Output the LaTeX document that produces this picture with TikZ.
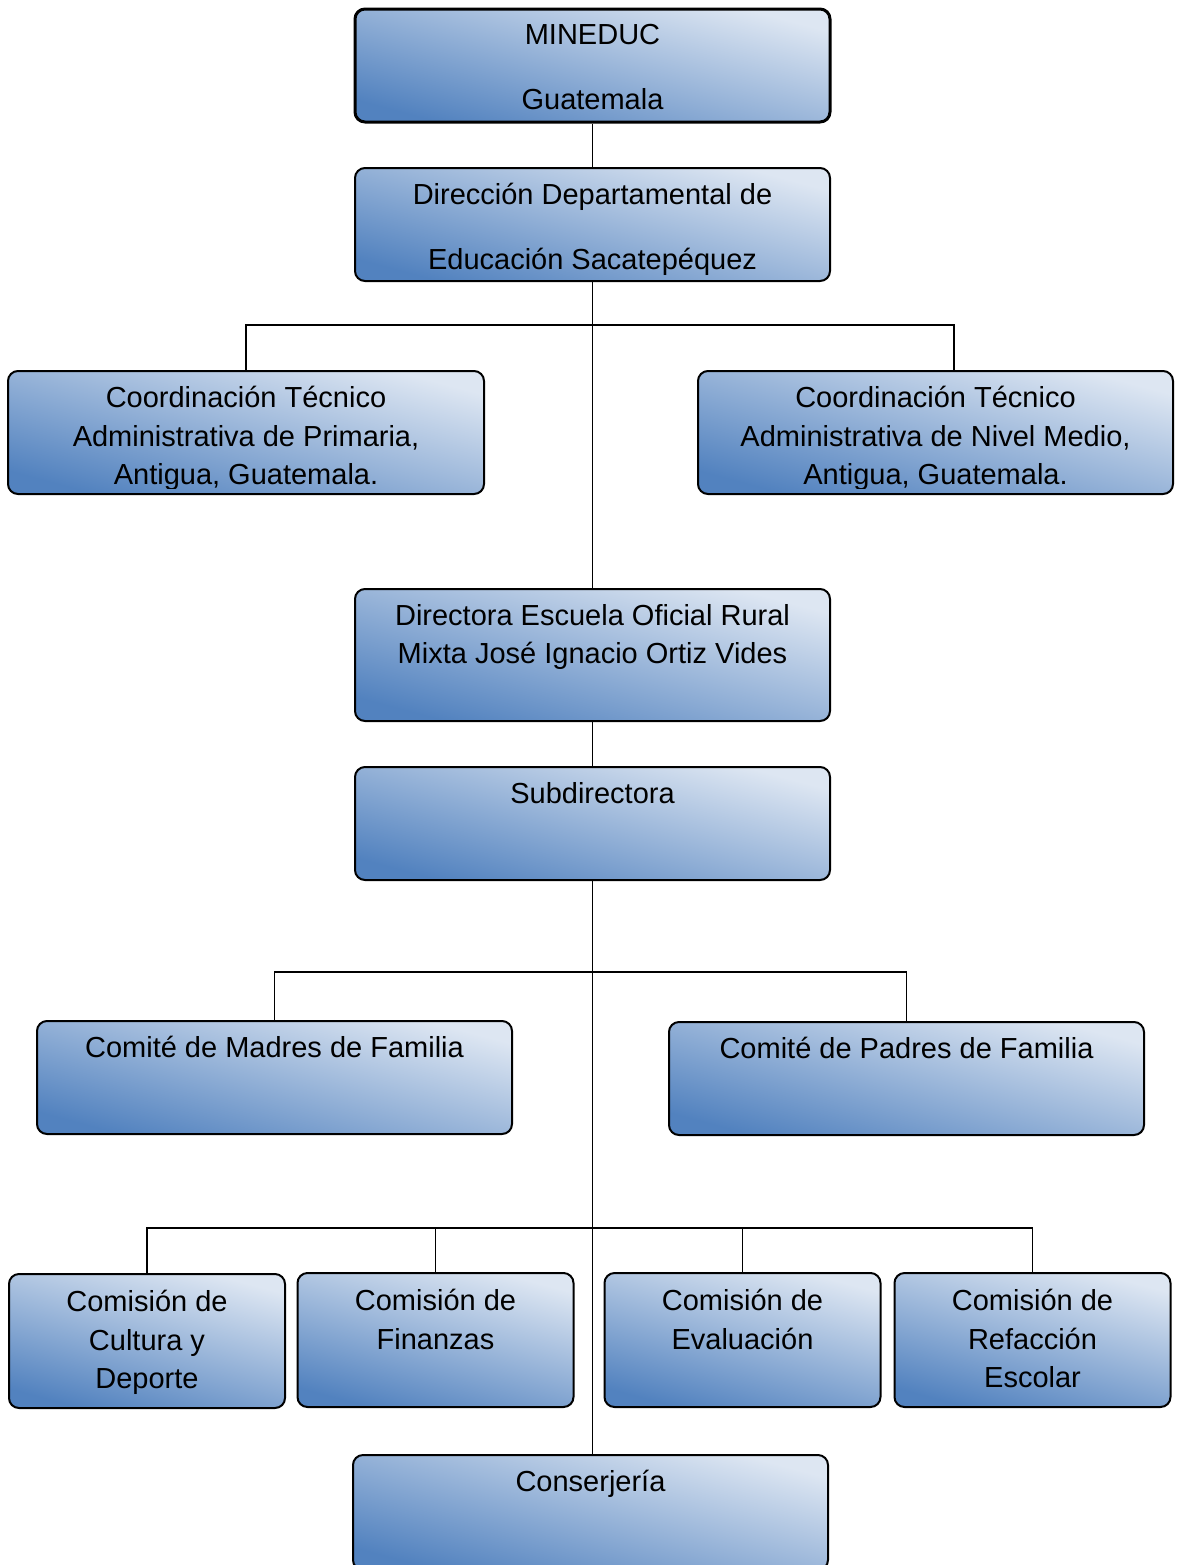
\documentclass[tikz,border=0pt]{standalone}
\usepackage{fontspec}
\setmainfont{Liberation Sans}
\usetikzlibrary{positioning}

\definecolor{cajaoscuro}{HTML}{5282BF}
\definecolor{cajaclaro}{HTML}{DDE6F2}

\tikzset{
  caja/.style={draw, line width=1pt, rounded corners=5pt, inner sep=0pt,
    top color=cajaclaro, bottom color=cajaoscuro, shading angle=-15,
    minimum width=237.5pt, minimum height=56.5pt},
  chica/.style={caja, minimum width=138pt, minimum height=67pt},
  texto/.style={inner sep=0pt, align=center,
    font=\fontsize{14.5}{19.25}\selectfont, execute at begin node=\strut},
  linea/.style={line width=0.75pt}
}

\begin{document}
\begin{tikzpicture}[x=0.5pt,y=-0.5pt]
	\useasboundingbox (0,0) rectangle (1177,1565);

	% nivel superior
	\node[caja, line width=1.5pt] (mineduc) at (592.5,65.5) {};
	\node[texto, below=8pt of mineduc.north] (mineducT) {MINEDUC\\[13.25pt]Guatemala};

	\node[caja] (direccion) at (592.5,224.5) {};
	\node[texto, below=8pt of direccion.north] (direccionT) {Direcci\'on Departamental de\\[13.25pt]Educaci\'on Sacatep\'equez};

	% coordinaciones
	\node[caja, minimum width=238pt, minimum height=61.5pt] (coordPrim) at (246,432.5) {};
	\node[caja, minimum height=61.5pt] (coordMedio) at (935.5,432.5) {};
	\begin{scope}
		\clip (coordPrim.north west) rectangle ([yshift=3.5pt]coordMedio.south east);
		\node[texto, below=8pt of coordPrim.north] (coordPrimT) {Coordinaci\'on T\'ecnico\\Administrativa de Primaria,\\Antigua, Guatemala.};
		\node[texto, below=8pt of coordMedio.north] (coordMedioT) {Coordinaci\'on T\'ecnico\\Administrativa de Nivel Medio,\\Antigua, Guatemala.};
	\end{scope}

	% escuela
	\node[caja, minimum height=66pt] (directora) at (592.5,655) {};
	\node[texto, below=8pt of directora.north] (directoraT) {Directora Escuela Oficial Rural\\Mixta Jos\'e Ignacio Ortiz Vides};

	\node[caja] (subdir) at (592.5,823.5) {};
	\node[texto, below=5pt of subdir.north] (subdirT) {Subdirectora};

	% comites
	\node[caja] (madres) at (274.5,1077.5) {};
	\node[texto, below=5pt of madres.north] (madresT) {Comit\'e de Madres de Familia};

	\node[caja] (padres) at (906.5,1078.5) {};
	\node[texto, below=5pt of padres.north] (padresT) {Comit\'e de Padres de Familia};

	% comisiones
	\node[chica] (cultura) at (147,1341) {};
	\node[texto, below=8.5pt of cultura.north] (culturaT) {Comisi\'on de\\Cultura y\\Deporte};

	\node[chica] (finanzas) at (435.5,1340) {};
	\node[texto, below=8.5pt of finanzas.north] (finanzasT) {Comisi\'on de\\Finanzas};

	\node[chica] (evaluacion) at (742.5,1340) {};
	\node[texto, below=8.5pt of evaluacion.north] (evaluacionT) {Comisi\'on de\\Evaluaci\'on};

	\node[chica] (refaccion) at (1032.5,1340) {};
	\node[texto, below=8.5pt of refaccion.north] (refaccionT) {Comisi\'on de\\Refacci\'on\\Escolar};

	\node[caja, minimum height=57.5pt] (conserjeria) at (590.5,1512.5) {};
	\node[texto, below=5pt of conserjeria.north] (conserjeriaT) {Conserjer\'ia};

	% lineas
	\coordinate (busA) at (592.5,325);
	\coordinate (busB) at (591,972);
	\coordinate (busC) at (591,1228);

	\draw[linea] (mineduc) -- (direccion);
	\draw[linea] (direccion) -- (directora);
	\draw[linea] (coordPrim.north) |- (busA) -| ([xshift=9.25pt]coordMedio.north);
	\draw[linea] (directora) -- (subdir);
	\draw[linea] (subdir.south) -- (subdir.south |- conserjeria.north);
	\draw[linea] (madres.north) |- (busB) -| (padres.north);
	\draw[linea] (cultura.north) |- (busC) -| (refaccion.north);
	\draw[linea] (finanzas.north) -- (finanzas.north |- busC);
	\draw[linea] (evaluacion.north) -- (evaluacion.north |- busC);

\end{tikzpicture}
\end{document}
